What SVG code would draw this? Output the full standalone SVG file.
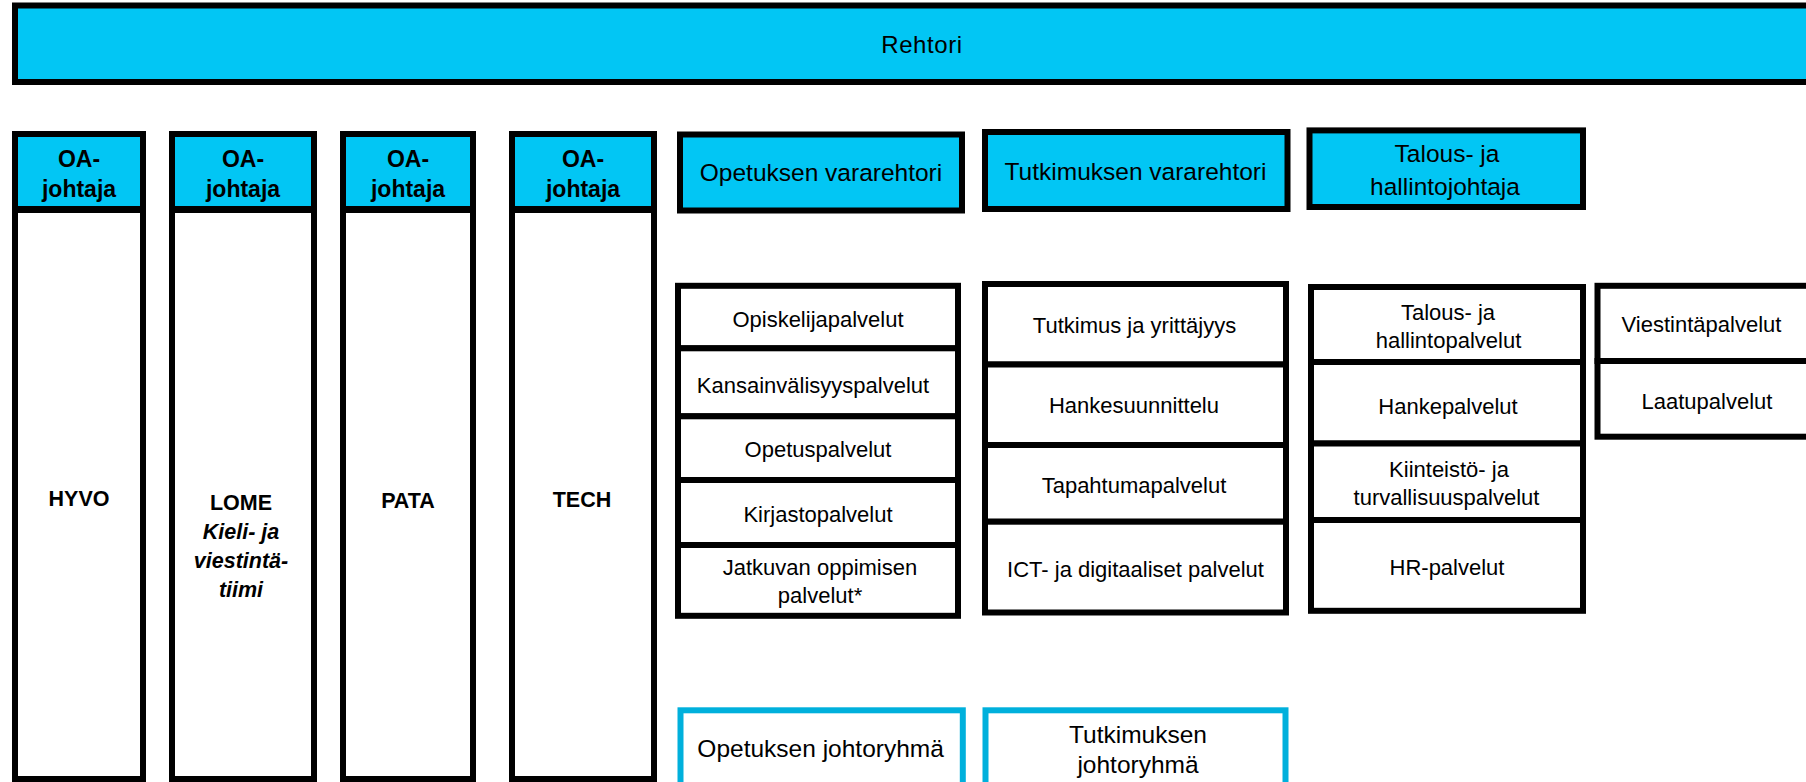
<svg xmlns="http://www.w3.org/2000/svg" width="1806" height="782" viewBox="0 0 1806 782">
<style>
.cyan{fill:#02C6F4;stroke:#000;stroke-width:6}
.white{fill:#fff;stroke:#000;stroke-width:6}
.team{fill:#fff;stroke:#00B0DC;stroke-width:6}
text{font-family:"Liberation Sans",Arial,sans-serif;text-anchor:middle;fill:#000}
.h{font-size:24.5px}
.s{font-size:22px}
.b{font-size:23px;font-weight:bold}
.u{font-size:21.5px;font-weight:bold}
.i{font-style:italic}
</style>
<rect width="1806" height="782" fill="#fff"/>
<g id="connectors"/>
<g id="rehtori">
<rect class="cyan" x="15" y="5.5" width="1800" height="76.5"/>
<text class="h" x="922" y="53" style="font-size:24px;letter-spacing:0.6px">Rehtori</text>
</g>
<g id="hyvo">
<rect class="cyan" x="15" y="134" width="128" height="75"/>
<text class="b" x="79" y="166.7">OA-</text>
<text class="b" x="79" y="196.7">johtaja</text>
<rect class="white" x="15" y="210" width="128" height="569"/>
<text class="u" x="79" y="506">HYVO</text>
</g>
<g id="lome">
<rect class="cyan" x="172" y="134" width="142" height="75"/>
<text class="b" x="243" y="166.7">OA-</text>
<text class="b" x="243" y="196.7">johtaja</text>
<rect class="white" x="172" y="210" width="142" height="569"/>
<text class="u" x="241" y="510">LOME</text>
<text class="u i" x="241" y="539.3">Kieli- ja</text>
<text class="u i" x="241" y="568.3">viestintä-</text>
<text class="u i" x="241" y="596.7">tiimi</text>
</g>
<g id="pata">
<rect class="cyan" x="343" y="134" width="130" height="75"/>
<text class="b" x="408" y="166.7">OA-</text>
<text class="b" x="408" y="196.7">johtaja</text>
<rect class="white" x="343" y="210" width="130" height="569"/>
<text class="u" x="408" y="507.5">PATA</text>
</g>
<g id="tech">
<rect class="cyan" x="512" y="134" width="142" height="75"/>
<text class="b" x="583" y="166.7">OA-</text>
<text class="b" x="583" y="196.7">johtaja</text>
<rect class="white" x="512" y="210" width="142" height="569"/>
<text class="u" x="582" y="506.7">TECH</text>
</g>
<g id="opetuksen-vararehtori">
<rect class="cyan" x="680" y="134.5" width="282" height="76"/>
<text class="h" x="821" y="181">Opetuksen vararehtori</text>
</g>
<g id="tutkimuksen-vararehtori">
<rect class="cyan" x="985" y="132" width="302.5" height="77"/>
<text class="h" x="1135.5" y="180">Tutkimuksen vararehtori</text>
</g>
<g id="talous-hallintojohtaja">
<rect class="cyan" x="1309.5" y="130.4" width="273.5" height="76.6"/>
<text class="h" x="1447" y="162">Talous- ja</text>
<text class="h" x="1445" y="194.5">hallintojohtaja</text>
</g>
<g id="opetus-palvelut">
<rect class="white" x="678" y="285.8" width="280" height="62.5"/>
<text class="s" x="818" y="327.3">Opiskelijapalvelut</text>
<rect class="white" x="678" y="348.3" width="280" height="68"/>
<text class="s" x="813" y="393.3">Kansainvälisyyspalvelut</text>
<rect class="white" x="678" y="416.3" width="280" height="63.7"/>
<text class="s" x="818" y="456.7">Opetuspalvelut</text>
<rect class="white" x="678" y="480" width="280" height="65"/>
<text class="s" x="818" y="521.7">Kirjastopalvelut</text>
<rect class="white" x="678" y="545" width="280" height="70.8"/>
<text class="s" x="820" y="575">Jatkuvan oppimisen</text>
<text class="s" x="820" y="603.3">palvelut*</text>
</g>
<g id="tutkimus-palvelut">
<rect class="white" x="985" y="284" width="301" height="80.5"/>
<text class="s" x="1134.5" y="333.3">Tutkimus ja yrittäjyys</text>
<rect class="white" x="985" y="364.5" width="301" height="80.5"/>
<text class="s" x="1134" y="413.3">Hankesuunnittelu</text>
<rect class="white" x="985" y="445" width="301" height="76.7"/>
<text class="s" x="1134" y="493.3">Tapahtumapalvelut</text>
<rect class="white" x="985" y="521.7" width="301" height="90.8"/>
<text class="s" x="1135.5" y="576.7">ICT- ja digitaaliset palvelut</text>
</g>
<g id="talous-palvelut">
<rect class="white" x="1311" y="287" width="272" height="75"/>
<text class="s" x="1448" y="319.7">Talous- ja</text>
<text class="s" x="1448.5" y="348">hallintopalvelut</text>
<rect class="white" x="1311" y="362" width="272" height="81.5"/>
<text class="s" x="1448" y="413.6">Hankepalvelut</text>
<rect class="white" x="1311" y="443.5" width="272" height="76.5"/>
<text class="s" x="1449" y="476.7">Kiinteistö- ja</text>
<text class="s" x="1446.5" y="505">turvallisuuspalvelut</text>
<rect class="white" x="1311" y="520" width="272" height="90.8"/>
<text class="s" x="1447" y="575">HR-palvelut</text>
</g>
<g id="viestinta-palvelut">
<rect class="white" x="1597.5" y="285.8" width="220" height="75.2"/>
<text class="s" x="1701.5" y="332">Viestintäpalvelut</text>
<rect class="white" x="1597.5" y="361" width="220" height="75.7"/>
<text class="s" x="1707" y="409">Laatupalvelut</text>
</g>
<g id="opetuksen-johtoryhma">
<rect class="team" x="680.5" y="710.3" width="282.3" height="90"/>
<text class="h" x="820.6" y="757.3">Opetuksen johtoryhmä</text>
</g>
<g id="tutkimuksen-johtoryhma">
<rect class="team" x="985.5" y="710.3" width="300" height="90"/>
<text class="h" x="1138" y="743.3">Tutkimuksen</text>
<text class="h" x="1138" y="773">johtoryhmä</text>
</g>
</svg>
